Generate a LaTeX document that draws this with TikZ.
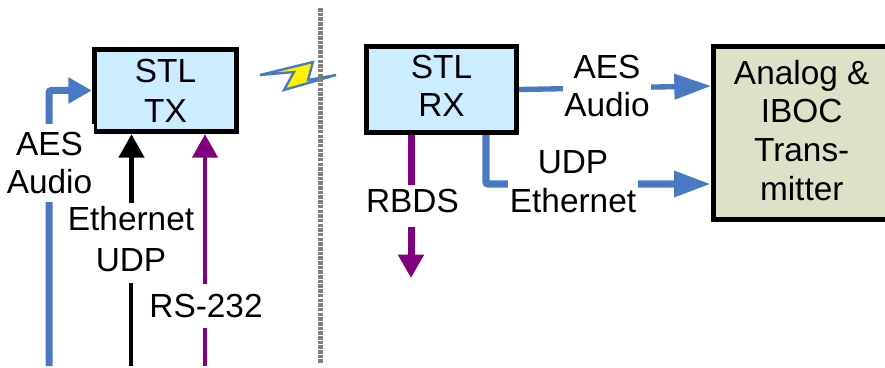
\documentclass[tikz,border=0pt]{standalone}
\usepackage{fontspec}
\setmainfont{Liberation Sans}
\usetikzlibrary{arrows.meta}
\definecolor{stlblue}{HTML}{CCECFF}
\definecolor{xmtrgreen}{HTML}{DDE1C8}
\definecolor{wireblue}{HTML}{4A78C2}
\definecolor{wirepurple}{HTML}{800080}
\tikzset{
    boxnode/.style={draw=black,line width=.16cm,align=center,font=\fontsize{28.5}{33}\selectfont},
    labelnode/.style={fill=white,align=center,inner sep=1.5pt,font=\fontsize{28.5}{33}\selectfont},
    shorthead/.style={-{Triangle[length=.7cm,width=.74cm]}},
    longhead/.style={-{Triangle[length=1.1cm,width=.74cm]}},
}
\begin{document}
\begin{tikzpicture}[x=.03cm,y=-.03cm]
    \useasboundingbox (0,0) rectangle (885,368);
    % hop
    \draw[line width=.07cm,color=wireblue,fill=yellow,line join=miter] (260,75) -- (313,62) -- (308,80) -- (336,75) -- (284,90) -- (294,72) -- cycle;
    \draw[color=gray,line width=.15cm,dash pattern=on 3pt off 1pt] (320,8) -- (320,364);
    % boxes
    \node[boxnode,fill=stlblue,minimum width=4.26cm,minimum height=2.46cm] (tx) at (165.5,90.5) {STL\\[1pt]TX};
    \node[boxnode,fill=stlblue,minimum width=4.5cm,minimum height=2.58cm] (rx) at (441.5,89.5) {STL\\[-.5pt]RX\\[-27pt]\mbox{}};
    \node[boxnode,fill=xmtrgreen,minimum width=5.3cm,minimum height=5.19cm] (xmtr) at (801.75,133) {Analog \&\\IBOC\\Trans-\\mitter\\[-28pt]\mbox{}};
    \coordinate (aesin) at (49,366);
    \coordinate (ethin) at (130.5,366);
    \coordinate (ethbreak) at (130.5,283);
    \coordinate (ethtop) at (131.5,203);
    \coordinate (rsin) at (205,366);
    \coordinate (rbdsbreak) at (411,185);
    \coordinate (rbdstop) at (411,227);
    \coordinate (rbdsout) at (411,278);
    \coordinate (aesout) at (711,86);
    \coordinate (udpturn) at (486,184);
    % wires
    \draw[shorthead,color=wireblue,line width=.21cm,rounded corners=2pt] (aesin) |- (tx.west);
    \draw[color=black,line width=.12cm] (ethin) -- (ethbreak);
    \draw[shorthead,color=black,line width=.15cm] (ethtop) -- (tx.south -| ethtop);
    \draw[shorthead,color=wirepurple,line width=.14cm] (rsin) -- (tx.south -| rsin);
    \draw[color=wirepurple,line width=.21cm] (rx.south -| rbdsbreak) -- (rbdsbreak);
    \draw[shorthead,color=wirepurple,line width=.21cm] (rbdstop) -- (rbdsout);
    \draw[longhead,color=wireblue,line width=.16cm] (rx.east) -- (aesout);
    \draw[longhead,color=wireblue,line width=.22cm,rounded corners=2pt] (rx.south -| udpturn) -- (udpturn) -- (xmtr.west |- udpturn);
    % labels
    \node[labelnode,minimum height=2.34cm] (aeslabel) at (49.5,163) {AES\\Audio};
    \node[labelnode,fill=none] (ethlabel) at (131,239.5) {Ethernet\\[2pt]UDP};
    \node[labelnode,minimum height=1.3cm] (rslabel) at (206,306) {RS-232};
    \node[labelnode,fill=none] (rbdslabel) at (412.5,201) {RBDS};
    \node[labelnode] (aesrxlabel) at (607,86) {AES\\Audio};
    \node[labelnode] (udplabel) at (573,182) {UDP\\Ethernet};
\end{tikzpicture}
\end{document}
